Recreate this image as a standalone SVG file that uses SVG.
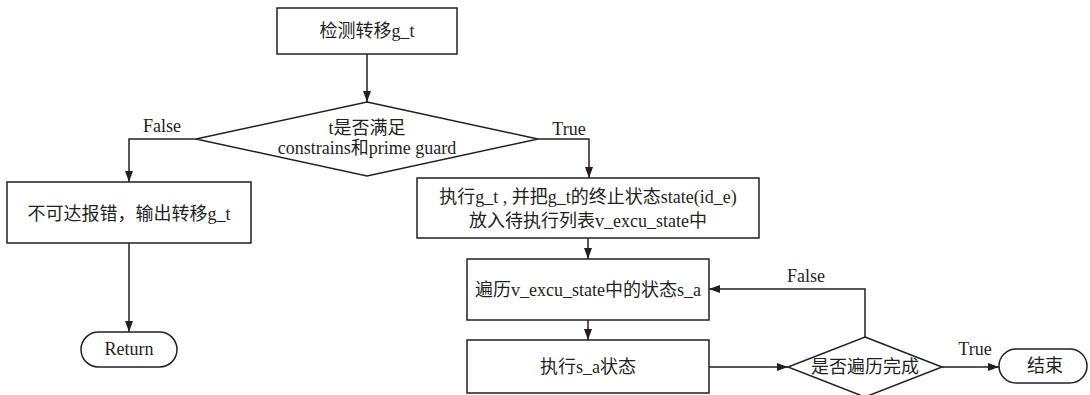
<svg xmlns="http://www.w3.org/2000/svg" width="1090" height="395" viewBox="0 0 1090 395">
<style>
.shape{fill:#fff;stroke:#231f20;stroke-width:1.5}
.edge{fill:none;stroke:#231f20;stroke-width:1.5}
text{font-family:"Liberation Serif","Noto Sans CJK SC",serif;font-size:18px;fill:#231f20;text-anchor:middle}
</style>
<defs>
<marker id="arr" markerUnits="userSpaceOnUse" markerWidth="11" markerHeight="8" refX="11" refY="4" orient="auto">
<path d="M0,0 L11,4 L0,8 z" fill="#231f20"/>
</marker>
</defs>
<rect width="1090" height="395" fill="#fff"/>
<g id="connectors">
<path class="edge" d="M367,54 V102" marker-end="url(#arr)"/>
<path class="edge" d="M196,139 H129 V182" marker-end="url(#arr)"/>
<path class="edge" d="M129,243 V332" marker-end="url(#arr)"/>
<path class="edge" d="M538,139 H589 V178" marker-end="url(#arr)"/>
<path class="edge" d="M588,238 V259" marker-end="url(#arr)"/>
<path class="edge" d="M588,320 V340" marker-end="url(#arr)"/>
<path class="edge" d="M709,367 H788" marker-end="url(#arr)"/>
<path class="edge" d="M865,337 V289 H709" marker-end="url(#arr)"/>
<path class="edge" d="M942,367 H999" marker-end="url(#arr)"/>
<text x="162" y="132">False</text>
<text x="569" y="135">True</text>
<text x="806" y="282">False</text>
<text x="975" y="355">True</text>
</g>
<g id="detect">
<rect class="shape" x="277" y="8" width="180" height="46"/>
<text x="367" y="37">检测转移g_t</text>
</g>
<g id="check">
<polygon class="shape" points="367,102 538,139 367,176 196,139"/>
<text x="367" y="134">t是否满足</text>
<text x="367" y="154">constrains和prime guard</text>
</g>
<g id="error">
<rect class="shape" x="7" y="182" width="244" height="61"/>
<text x="129" y="220">不可达报错，输出转移g_t</text>
</g>
<g id="return">
<rect class="shape" x="81" y="332" width="96" height="35" rx="17.5"/>
<text x="129" y="355">Return</text>
</g>
<g id="execute">
<rect class="shape" x="417" y="178" width="342" height="60"/>
<text x="588" y="203">执行g_t , 并把g_t的终止状态state(id_e)</text>
<text x="588" y="227">放入待执行列表v_excu_state中</text>
</g>
<g id="traverse">
<rect class="shape" x="467" y="259" width="242" height="61"/>
<text x="588" y="296">遍历v_excu_state中的状态s_a</text>
</g>
<g id="runstate">
<rect class="shape" x="467" y="340" width="242" height="53"/>
<text x="588" y="373">执行s_a状态</text>
</g>
<g id="done">
<polygon class="shape" points="865,337 942,367 865,397 788,367"/>
<text x="865" y="373">是否遍历完成</text>
</g>
<g id="end">
<rect class="shape" x="999" y="349" width="88" height="34" rx="17"/>
<text x="1045" y="372">结束</text>
</g>
</svg>
